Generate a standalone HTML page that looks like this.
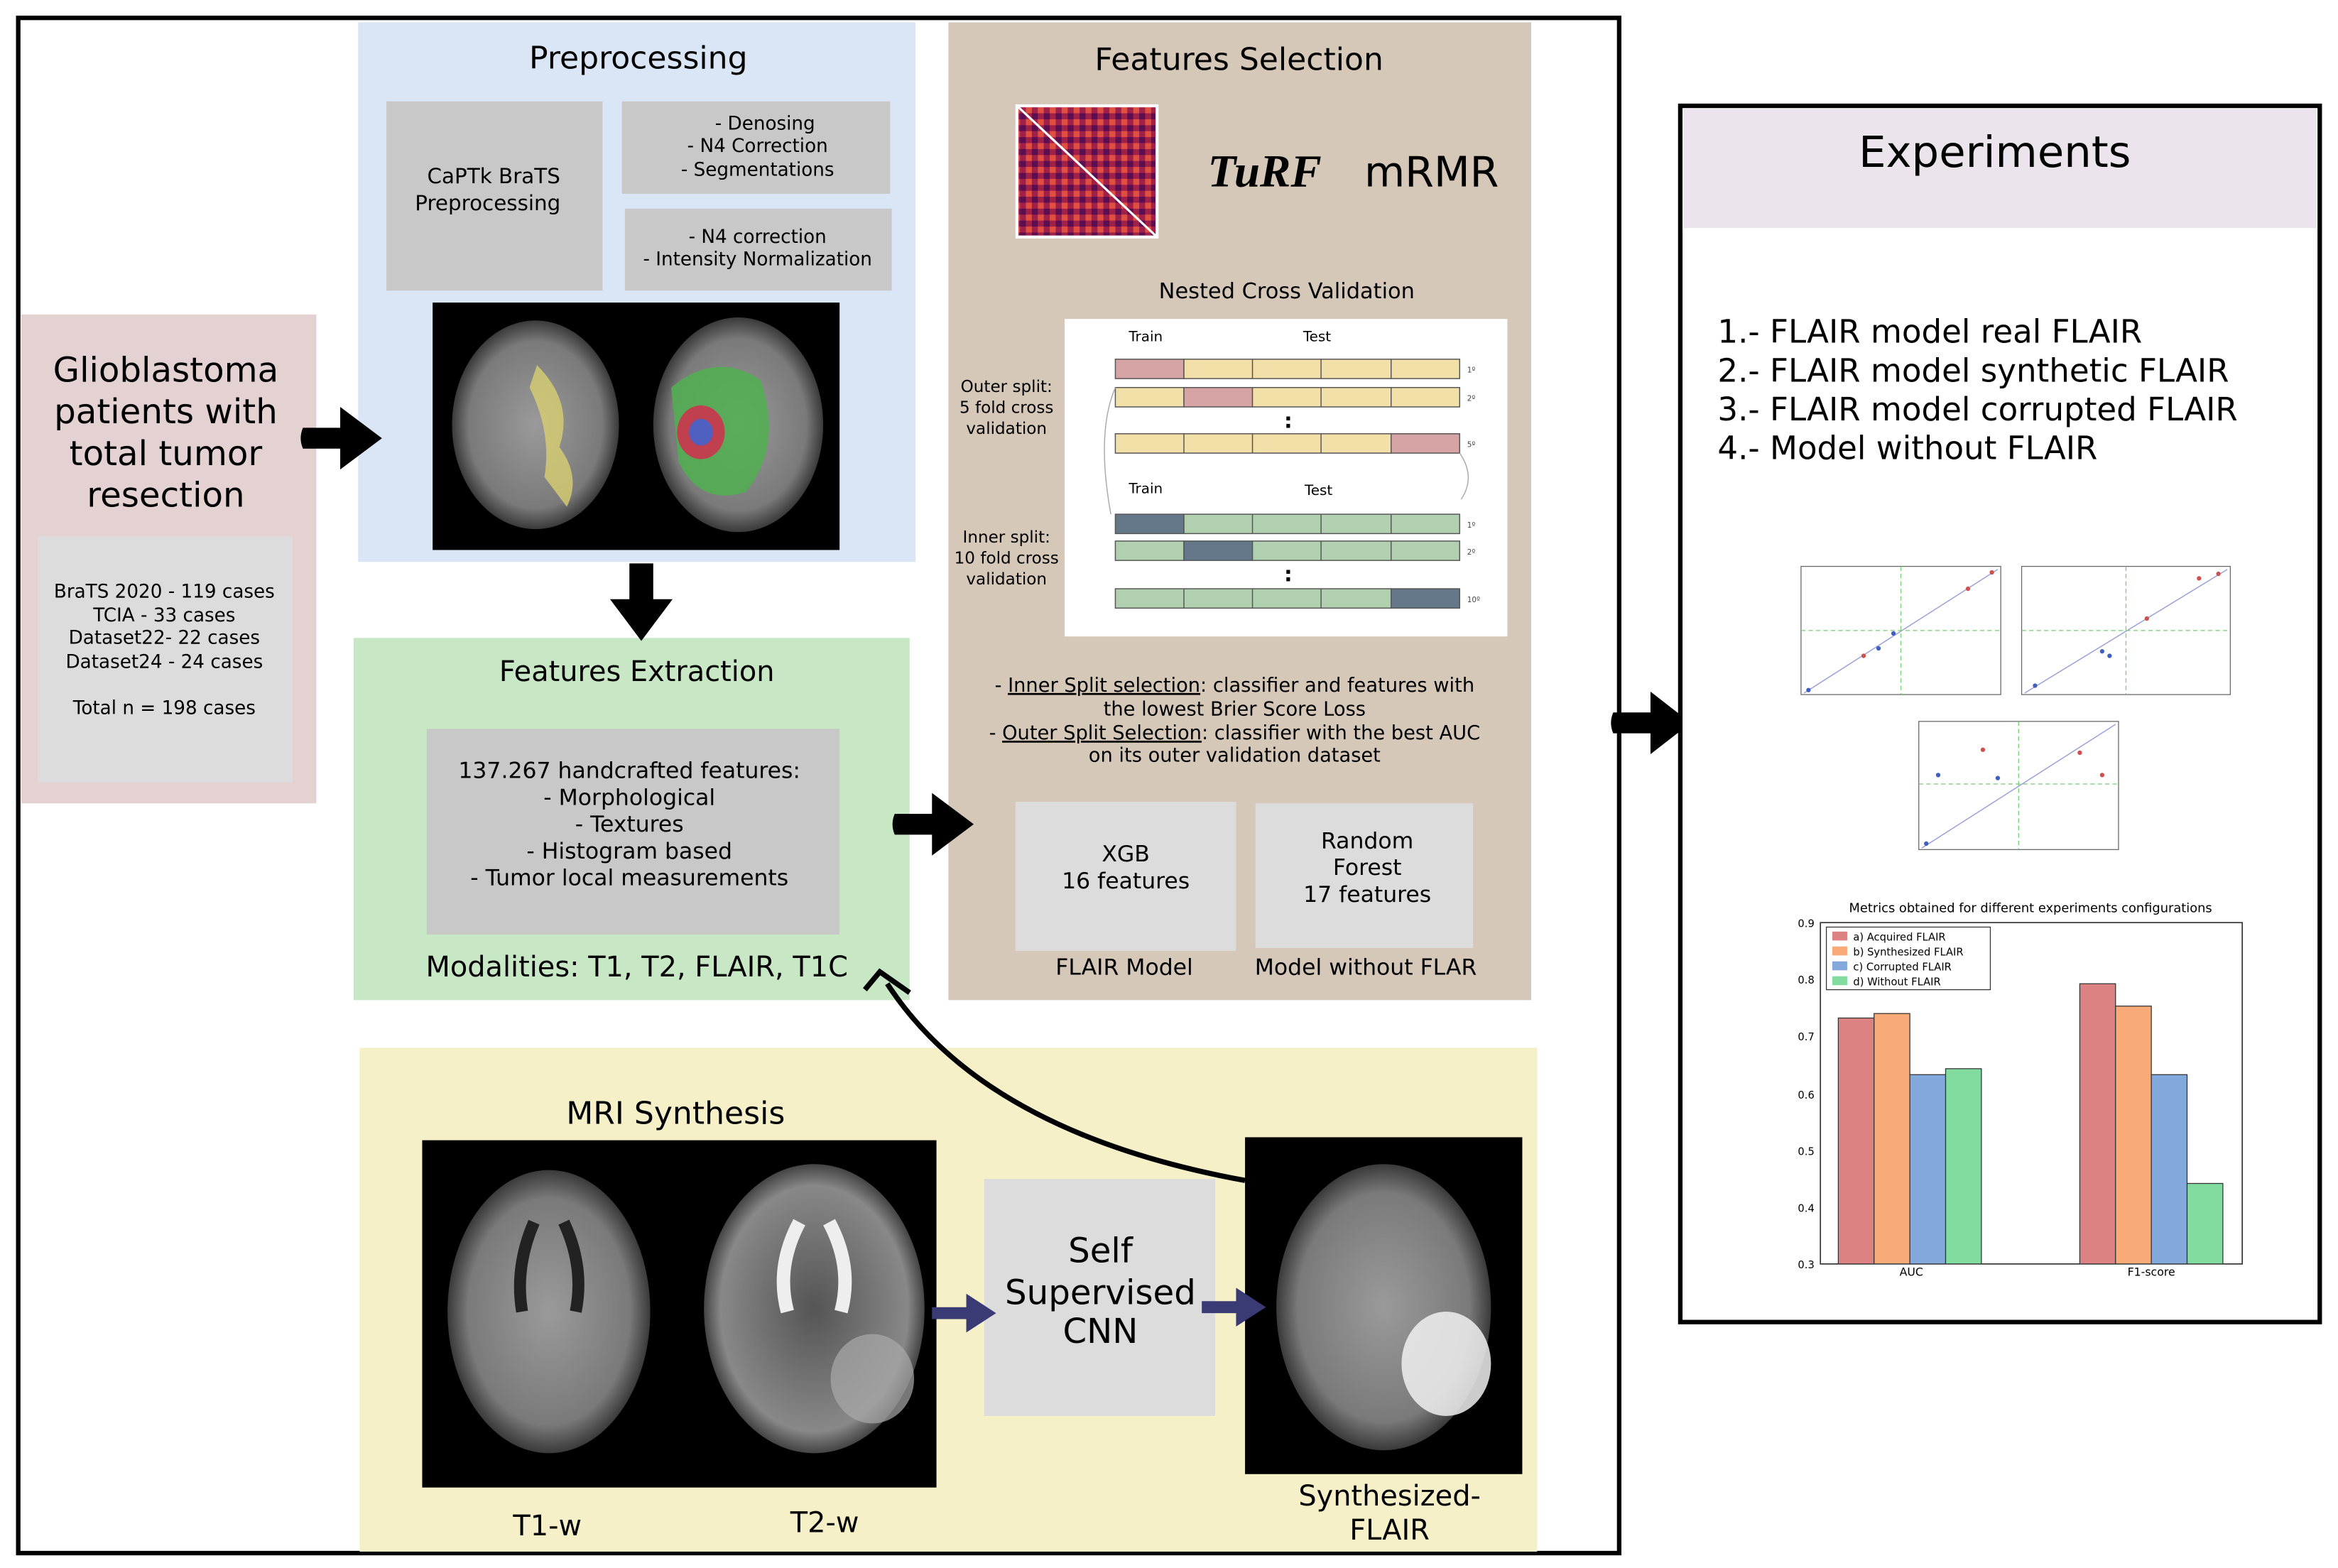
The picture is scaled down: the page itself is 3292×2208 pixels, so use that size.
<!DOCTYPE html>
<html><head><meta charset="utf-8"><style>
html,body{margin:0;padding:0;background:#fff;}
svg{display:block;}
text{font-family:"DejaVu Sans","Liberation Sans",sans-serif;}
</style></head><body>
<svg width="3292" height="2208" viewBox="0 0 1568 1052" xmlns="http://www.w3.org/2000/svg">
<defs>
<radialGradient id="br" cx="50%" cy="50%" r="50%"><stop offset="0" stop-color="#9a9a9a"/><stop offset="0.8" stop-color="#7a7a7a"/><stop offset="1" stop-color="#3a3a3a"/></radialGradient>
<radialGradient id="br2" cx="50%" cy="50%" r="50%"><stop offset="0" stop-color="#555"/><stop offset="0.85" stop-color="#888"/><stop offset="1" stop-color="#444"/></radialGradient>
<pattern id="hm" width="8" height="8" patternUnits="userSpaceOnUse"><rect width="8" height="8" fill="#a0204a"/><rect width="4" height="4" fill="#e05040"/><rect x="4" y="4" width="4" height="4" fill="#5a1050"/></pattern>
</defs>
<rect width="1568" height="1052" fill="#fff"/>
<rect x="12" y="12" width="1074" height="1030" fill="none" stroke="#000" stroke-width="3"/>

<!-- Preprocessing -->
<rect x="240" y="15" width="374" height="362" fill="#dae6f6"/>
<text x="428" y="46" font-size="21" text-anchor="middle">Preprocessing</text>
<rect x="259" y="68" width="145" height="127" fill="#c8c8c8"/>
<text x="331" y="123" font-size="14" text-anchor="middle">CaPTk BraTS</text>
<text x="327" y="141" font-size="14" text-anchor="middle">Preprocessing</text>
<rect x="417" y="68" width="180" height="62" fill="#c8c8c8"/>
<text x="513" y="87" font-size="12.5" text-anchor="middle">- Denosing</text>
<text x="508" y="102" font-size="12.5" text-anchor="middle">- N4 Correction</text>
<text x="508" y="118" font-size="12.5" text-anchor="middle">- Segmentations</text>
<rect x="419" y="140" width="179" height="55" fill="#c8c8c8"/>
<text x="508" y="163" font-size="12.5" text-anchor="middle">- N4 correction</text>
<text x="508" y="178" font-size="12.5" text-anchor="middle">- Intensity Normalization</text>
<rect x="290" y="203" width="273" height="166" fill="#000"/>
<ellipse cx="359" cy="285" rx="56" ry="70" fill="url(#br)"/>
<path d="M360 245 Q385 270 375 300 Q390 320 380 340 L365 320 Q370 290 355 260Z" fill="#d8d070" opacity="0.8"/>
<ellipse cx="495" cy="285" rx="57" ry="72" fill="url(#br)"/>
<path d="M450 260 Q480 235 510 255 Q525 300 500 330 Q470 340 455 310Z" fill="#50b050" opacity="0.85"/>
<ellipse cx="470" cy="290" rx="16" ry="18" fill="#c04050"/>
<ellipse cx="470" cy="290" rx="8" ry="9" fill="#5060c0"/>

<!-- Glioblastoma -->
<rect x="14" y="211" width="198" height="328" fill="#e4d2d2"/>
<text x="111" y="256" font-size="23" text-anchor="middle">Glioblastoma</text>
<text x="111" y="284" font-size="23" text-anchor="middle">patients with</text>
<text x="111" y="312" font-size="23" text-anchor="middle">total tumor</text>
<text x="111" y="340" font-size="23" text-anchor="middle">resection</text>
<rect x="25" y="360" width="171" height="165" fill="#dcdcdc"/>
<g font-size="12.5" text-anchor="middle">
<text x="110" y="401">BraTS 2020 - 119 cases</text>
<text x="110" y="417">TCIA - 33 cases</text>
<text x="110" y="432">Dataset22- 22 cases</text>
<text x="110" y="448">Dataset24 - 24 cases</text>
<text x="110" y="479">Total n = 198 cases</text>
</g>

<!-- Features Extraction -->
<rect x="237" y="428" width="373" height="243" fill="#c8e8c5"/>
<text x="427" y="457" font-size="19" text-anchor="middle">Features Extraction</text>
<rect x="286" y="489" width="277" height="138" fill="#c8c8c8"/>
<g font-size="15" text-anchor="middle">
<text x="422" y="522">137.267 handcrafted features:</text>
<text x="422" y="540">- Morphological</text>
<text x="422" y="558">- Textures</text>
<text x="422" y="576">- Histogram based</text>
<text x="422" y="594">- Tumor local measurements</text>
</g>
<text x="427" y="655" font-size="19" text-anchor="middle">Modalities: T1, T2, FLAIR, T1C</text>

<!-- Features Selection -->
<rect x="636" y="15" width="391" height="656" fill="#d6c8b8"/>
<text x="831" y="47" font-size="21" text-anchor="middle">Features Selection</text>
<rect x="682" y="71" width="94" height="88" fill="url(#hm)" stroke="#fff" stroke-width="2"/>
<line x1="682" y1="71" x2="776" y2="159" stroke="#fff" stroke-width="1.5"/>
<text x="810" y="125" font-size="31" style="font-family:'Liberation Serif',serif;font-weight:bold;font-style:italic">TuRF</text>
<text x="915" y="125" font-size="28">mRMR</text>
<text x="863" y="200" font-size="14.5" text-anchor="middle">Nested Cross Validation</text>
<rect x="714" y="214" width="297" height="213" fill="#fff"/>
<g font-size="9.5">
<text x="757" y="229">Train</text><text x="874" y="229">Test</text>
<text x="757" y="331">Train</text><text x="875" y="332">Test</text>
</g>
<g stroke="#555" stroke-width="0.7">
<rect x="748" y="241" width="46" height="13" fill="#d6a4a4"/><rect x="794" y="241" width="185" height="13" fill="#f2e0a8"/>
<rect x="748" y="260" width="46" height="13" fill="#f2e0a8"/><rect x="794" y="260" width="46" height="13" fill="#d6a4a4"/><rect x="840" y="260" width="139" height="13" fill="#f2e0a8"/>
<rect x="748" y="291" width="185" height="13" fill="#f2e0a8"/><rect x="933" y="291" width="46" height="13" fill="#d6a4a4"/>
<rect x="748" y="345" width="46" height="13" fill="#64788a"/><rect x="794" y="345" width="185" height="13" fill="#b0d0b0"/>
<rect x="748" y="363" width="46" height="13" fill="#b0d0b0"/><rect x="794" y="363" width="46" height="13" fill="#64788a"/><rect x="840" y="363" width="139" height="13" fill="#b0d0b0"/>
<rect x="748" y="395" width="185" height="13" fill="#b0d0b0"/><rect x="933" y="395" width="46" height="13" fill="#64788a"/>
<line x1="840" y1="241" x2="840" y2="254"/><line x1="886" y1="241" x2="886" y2="254"/><line x1="933" y1="241" x2="933" y2="254"/>
<line x1="886" y1="260" x2="886" y2="273"/><line x1="933" y1="260" x2="933" y2="273"/>
<line x1="794" y1="291" x2="794" y2="304"/><line x1="840" y1="291" x2="840" y2="304"/><line x1="886" y1="291" x2="886" y2="304"/>
<line x1="840" y1="345" x2="840" y2="358"/><line x1="886" y1="345" x2="886" y2="358"/><line x1="933" y1="345" x2="933" y2="358"/>
<line x1="886" y1="363" x2="886" y2="376"/><line x1="933" y1="363" x2="933" y2="376"/>
<line x1="794" y1="395" x2="794" y2="408"/><line x1="840" y1="395" x2="840" y2="408"/><line x1="886" y1="395" x2="886" y2="408"/>
</g>
<path d="M748 260 Q735 290 745 345" fill="none" stroke="#aaa" stroke-width="0.7"/>
<path d="M979 304 Q990 320 980 335" fill="none" stroke="#aaa" stroke-width="0.7"/>
<text x="864" y="287" font-size="14" text-anchor="middle" font-weight="bold">:</text>
<text x="864" y="390" font-size="14" text-anchor="middle" font-weight="bold">:</text>
<g font-size="5" fill="#444"><text x="984" y="250">1º</text><text x="984" y="269">2º</text><text x="984" y="300">5º</text><text x="984" y="354">1º</text><text x="984" y="372">2º</text><text x="984" y="404">10º</text></g>
<g font-size="11" text-anchor="middle">
<text x="675" y="263">Outer split:</text><text x="675" y="277">5 fold cross</text><text x="675" y="291">validation</text>
<text x="675" y="364">Inner split:</text><text x="675" y="378">10 fold cross</text><text x="675" y="392">validation</text>
</g>
<g font-size="13" text-anchor="middle">
<text x="828" y="464">- <tspan text-decoration="underline">Inner Split selection</tspan>: classifier and features with</text>
<text x="828" y="480">the lowest Brier Score Loss</text>
<text x="828" y="496">- <tspan text-decoration="underline">Outer Split Selection</tspan>: classifier with the best AUC</text>
<text x="828" y="511">on its outer validation dataset</text>
</g>
<rect x="681" y="538" width="148" height="100" fill="#dcdcdc"/>
<text x="755" y="578" font-size="15" text-anchor="middle">XGB</text>
<text x="755" y="596" font-size="15" text-anchor="middle">16 features</text>
<rect x="842" y="539" width="146" height="97" fill="#dcdcdc"/>
<text x="917" y="569" font-size="15" text-anchor="middle">Random</text>
<text x="917" y="587" font-size="15" text-anchor="middle">Forest</text>
<text x="917" y="605" font-size="15" text-anchor="middle">17 features</text>
<text x="754" y="654" font-size="15" text-anchor="middle">FLAIR Model</text>
<text x="916" y="654" font-size="15" text-anchor="middle">Model without FLAR</text>

<!-- MRI Synthesis -->
<rect x="241" y="703" width="790" height="338" fill="#f6f0c8"/>
<text x="453" y="754" font-size="21" text-anchor="middle">MRI Synthesis</text>
<rect x="283" y="765" width="345" height="233" fill="#000"/>
<ellipse cx="368" cy="880" rx="68" ry="95" fill="url(#br)"/>
<path d="M358 820 Q345 850 350 880 M378 820 Q392 850 386 880" stroke="#222" stroke-width="8" fill="none"/>
<ellipse cx="546" cy="878" rx="74" ry="97" fill="url(#br2)"/>
<path d="M536 820 Q520 850 528 880 M556 820 Q572 850 564 880" stroke="#eee" stroke-width="9" fill="none"/>
<ellipse cx="585" cy="925" rx="28" ry="30" fill="#aaa" opacity="0.7"/>
<rect x="660" y="791" width="155" height="159" fill="#dcdcdc"/>
<text x="738" y="847" font-size="23" text-anchor="middle">Self</text>
<text x="738" y="875" font-size="23" text-anchor="middle">Supervised</text>
<text x="738" y="901" font-size="23" text-anchor="middle">CNN</text>
<rect x="835" y="763" width="186" height="226" fill="#000"/>
<ellipse cx="928" cy="877" rx="72" ry="96" fill="url(#br)"/>
<ellipse cx="970" cy="915" rx="30" ry="35" fill="#f0f0f0" opacity="0.85"/>
<text x="367" y="1030" font-size="19" text-anchor="middle">T1-w</text>
<text x="553" y="1028" font-size="19" text-anchor="middle">T2-w</text>
<text x="932" y="1010" font-size="19" text-anchor="middle">Synthesized-</text>
<text x="932" y="1033" font-size="19" text-anchor="middle">FLAIR</text>
<g fill="#3a3a74">
<path d="M625 877 L648 877 L648 868 L668 881 L648 894 L648 885 L625 885Z"/>
<path d="M806 873 L829 873 L829 864 L849 877 L829 890 L829 881 L806 881Z"/>
</g>
<path d="M835 792 Q660 760 595 660" fill="none" stroke="#000" stroke-width="3.5"/>
<path d="M580 664 L590 652 L610 666" fill="none" stroke="#000" stroke-width="3.5"/>

<g fill="#000">
<path d="M203 287 L228 287 L228 273 L256 294 L228 315 L228 301 L203 301 Q200 294 203 287Z"/>
<path d="M422 378 L438 378 L438 402 L451 402 L430 430 L409 402 L422 402Z"/>
<path d="M600 546 L625 546 L625 532 L653 553 L625 574 L625 560 L600 560 Q597 553 600 546Z"/>
<path d="M1082 478 L1107 478 L1107 464 L1134 485 L1107 506 L1107 492 L1082 492 Q1079 485 1082 478Z"/>
</g>

<!-- Experiments -->
<rect x="1127" y="71" width="429" height="816" fill="#fff" stroke="#000" stroke-width="3"/>
<rect x="1129" y="73" width="425" height="80" fill="#ece4ec"/>
<text x="1338" y="112" font-size="29" text-anchor="middle">Experiments</text>
<g font-size="21.5">
<text x="1152" y="230">1.- FLAIR model real FLAIR</text>
<text x="1152" y="256">2.- FLAIR model synthetic FLAIR</text>
<text x="1152" y="282">3.- FLAIR model corrupted FLAIR</text>
<text x="1152" y="308">4.- Model without FLAIR</text>
</g>
<g stroke="#666" stroke-width="0.6" fill="none">
<rect x="1208" y="380" width="134" height="86"/>
<rect x="1356" y="380" width="140" height="86"/>
<rect x="1287" y="484" width="134" height="86"/>
</g>
<g stroke="#9aa0d8" stroke-width="0.7"><line x1="1210" y1="465" x2="1340" y2="382"/><line x1="1358" y1="465" x2="1494" y2="382"/><line x1="1289" y1="569" x2="1419" y2="486"/></g>
<g stroke="#7c7" stroke-width="0.6" stroke-dasharray="3,2"><line x1="1208" y1="423" x2="1342" y2="423"/><line x1="1275" y1="380" x2="1275" y2="466"/><line x1="1356" y1="423" x2="1496" y2="423"/><line x1="1426" y1="380" x2="1426" y2="466"/><line x1="1287" y1="526" x2="1421" y2="526"/><line x1="1354" y1="484" x2="1354" y2="570"/></g>
<g fill="#4060c0"><circle cx="1213" cy="463" r="1.5"/><circle cx="1260" cy="435" r="1.5"/><circle cx="1270" cy="425" r="1.5"/><circle cx="1365" cy="460" r="1.5"/><circle cx="1410" cy="437" r="1.5"/><circle cx="1415" cy="440" r="1.5"/><circle cx="1300" cy="520" r="1.5"/><circle cx="1340" cy="522" r="1.5"/><circle cx="1292" cy="566" r="1.5"/></g>
<g fill="#d05050"><circle cx="1250" cy="440" r="1.5"/><circle cx="1320" cy="395" r="1.5"/><circle cx="1336" cy="384" r="1.5"/><circle cx="1440" cy="415" r="1.5"/><circle cx="1475" cy="388" r="1.5"/><circle cx="1488" cy="385" r="1.5"/><circle cx="1330" cy="503" r="1.5"/><circle cx="1395" cy="505" r="1.5"/><circle cx="1410" cy="520" r="1.5"/></g>
<text x="1362" y="612" font-size="8.5" text-anchor="middle">Metrics obtained for different experiments configurations</text>
<rect x="1221" y="619" width="283" height="229" fill="none" stroke="#333" stroke-width="0.8"/>
<g font-size="7" text-anchor="end"><text x="1217" y="622">0.9</text><text x="1217" y="660">0.8</text><text x="1217" y="698">0.7</text><text x="1217" y="737">0.6</text><text x="1217" y="775">0.5</text><text x="1217" y="813">0.4</text><text x="1217" y="851">0.3</text></g>
<g stroke="#333" stroke-width="0.6">
<rect x="1233" y="683" width="24" height="165" fill="#dc8282"/>
<rect x="1257" y="680" width="24" height="168" fill="#f8aa78"/>
<rect x="1281" y="721" width="24" height="127" fill="#82a8dc"/>
<rect x="1305" y="717" width="24" height="131" fill="#82dca0"/>
<rect x="1395" y="660" width="24" height="188" fill="#dc8282"/>
<rect x="1419" y="675" width="24" height="173" fill="#f8aa78"/>
<rect x="1443" y="721" width="24" height="127" fill="#82a8dc"/>
<rect x="1467" y="794" width="24" height="54" fill="#82dca0"/>
<rect x="1225" y="622" width="110" height="42" fill="#fff"/>
</g>
<g font-size="7"><rect x="1229" y="625" width="10" height="6" fill="#dc8282"/><text x="1243" y="631">a) Acquired FLAIR</text>
<rect x="1229" y="635" width="10" height="6" fill="#f8aa78"/><text x="1243" y="641">b) Synthesized FLAIR</text>
<rect x="1229" y="645" width="10" height="6" fill="#82a8dc"/><text x="1243" y="651">c) Corrupted FLAIR</text>
<rect x="1229" y="655" width="10" height="6" fill="#82dca0"/><text x="1243" y="661">d) Without FLAIR</text></g>
<text x="1282" y="856" font-size="7.5" text-anchor="middle">AUC</text>
<text x="1443" y="856" font-size="7.5" text-anchor="middle">F1-score</text>
</svg>
</body></html>
